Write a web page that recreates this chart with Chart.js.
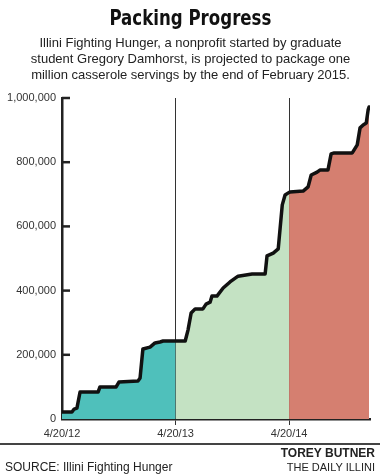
<!DOCTYPE html>
<html>
<head>
<meta charset="utf-8">
<script src="https://cdn.jsdelivr.net/npm/chart.js@4/dist/chart.umd.min.js"></script>
<style>
  body { margin: 0; width: 381px; height: 475px; position: relative; background: #fff; overflow: hidden;
         font-family: 'Liberation Sans', Arial, sans-serif; color: #222; }
  #chart { position: absolute; left: 0; top: 0; }
  .title { position: absolute; top: 5px; left: 0; width: 381px; text-align: center;
           font-family: 'Liberation Sans Narrow', 'DejaVu Sans Condensed', sans-serif; font-weight: bold;
           font-size: 22px; line-height: 26px; color: #111; transform: scaleX(0.84); transform-origin: 190px 0; }
  .sub { position: absolute; top: 35px; left: 0; width: 381px; text-align: center;
         font-size: 13px; line-height: 16px; color: #222; }
  .rule { position: absolute; left: 0; top: 443px; width: 380px; height: 2px; background: #444; }
  .src { position: absolute; left: 5px; top: 460px; font-size: 12px; }
  .credit { position: absolute; right: 6px; top: 446px; text-align: right; font-size: 11px; line-height: 14px; }
  .credit b { font-size: 12px; }
</style>
</head>
<body>
<canvas id="chart" width="381" height="475"></canvas>
<div class="title">Packing Progress</div>
<div class="sub">Illini Fighting Hunger, a nonprofit started by graduate<br>student Gregory Damhorst, is projected to package one<br>million casserole servings by the end of February 2015.</div>
<div class="rule"></div>
<div class="src">SOURCE: Illini Fighting Hunger</div>
<div class="credit"><b>TOREY BUTNER</b><br>THE DAILY ILLINI</div>
<script>
// days since 4/20/12, and cumulative servings
const days = [0, 32, 39, 48, 58, 116, 122, 174, 183, 244, 251, 260, 283, 299, 315, 325, 365, 396, 405, 415,
  428, 453, 463, 476, 482, 498, 518, 540, 566, 611, 653, 659, 679, 695, 708, 717, 730, 733, 775, 791,
  801, 820, 830, 855, 865, 875, 933, 949, 958, 968, 978, 984, 987]
const servings = [22000, 22000, 31000, 34000, 84000, 84000, 100000, 100000, 115000, 118000, 128000, 218000,
  224000, 237000, 240000, 243000, 243000, 243000, 277000, 330000, 343000, 343000, 358000, 364000, 383000,
  383000, 408000, 427000, 445000, 452000, 452000, 508000, 517000, 530000, 667000, 698000, 706000, 707000,
  710000, 723000, 760000, 769000, 776000, 776000, 826000, 829000, 829000, 854000, 907000, 916000, 922000,
  963000, 972000]

const xTickDays = [0, 365, 730]
const xTickLabels = ['4/20/12', '4/20/13', '4/20/14']
const yTicks = [0, 200000, 400000, 600000, 800000, 1000000]

const periods = [
  { from: 0, to: 365, color: '#4fc0bb' },
  { from: 365, to: 730, color: '#c4e2c3' },
  { from: 730, to: 9999, color: '#d57f70' },
]

const points = days.map((d, i) => ({ x: d, y: servings[i] }))

const fills = periods.map(p => ({
  data: points.filter(pt => pt.x >= p.from && pt.x <= p.to),
  backgroundColor: p.color,
  fill: 'origin',
  borderWidth: 0,
  pointRadius: 0,
  order: 1,
}))

const innerTicks = {
  id: 'innerTicks',
  afterDraw(chart) {
    const { ctx, chartArea, scales } = chart
    ctx.save()
    ctx.strokeStyle = '#222'
    ctx.lineWidth = 2.5
    yTicks.slice(1).forEach(v => {
      const y = scales.y.getPixelForValue(v)
      ctx.beginPath()
      ctx.moveTo(chartArea.left, y)
      ctx.lineTo(chartArea.left + 8, y)
      ctx.stroke()
    })
    ctx.restore()
  },
}

Chart.defaults.font.family = "'Liberation Sans', Arial, sans-serif"
Chart.defaults.font.size = 11
Chart.defaults.color = '#333'

new Chart(document.getElementById('chart'), {
  type: 'line',
  data: {
    datasets: [
      {
        data: points,
        borderColor: '#111',
        borderWidth: 3.5,
        borderJoinStyle: 'round',
        borderCapStyle: 'round',
        pointRadius: 0,
        fill: false,
        tension: 0,
        order: 0,
      },
      ...fills,
    ],
  },
  options: {
    responsive: false,
    devicePixelRatio: 1,
    animation: false,
    layout: { padding: { top: 98, right: 11, bottom: 31, left: 0 } },
    plugins: { legend: { display: false }, tooltip: { enabled: false } },
    scales: {
      x: {
        type: 'linear',
        min: 0,
        max: 990,
        z: 1,
        afterBuildTicks: s => { s.ticks = xTickDays.map(v => ({ value: v })) },
        afterFit: s => { s.height = 25 },
        ticks: {
          callback: v => xTickLabels[xTickDays.indexOf(v)],
          padding: 2,
          maxRotation: 0,
          autoSkip: false,
          font: { size: 11 },
        },
        grid: {
          color: c => (c.tick && c.tick.value === 0 ? 'rgba(0,0,0,0)' : '#333'),
          tickColor: c => (c.tick && c.tick.value === 0 ? 'rgba(0,0,0,0)' : '#333'),
          lineWidth: 1,
          tickLength: 6,
        },
        border: { display: true, color: '#222', width: 2.5 },
      },
      y: {
        min: 0,
        max: 1000000,
        z: 1,
        afterBuildTicks: s => { s.ticks = yTicks.map(v => ({ value: v })) },
        afterFit: s => { s.width = 62 },
        ticks: {
          callback: v => v.toLocaleString('en-US'),
          padding: 6,
          font: { size: 11 },
        },
        grid: { display: false, drawTicks: false },
        border: { display: true, color: '#222', width: 2.5 },
      },
    },
  },
  plugins: [innerTicks],
})
</script>
</body>
</html>
